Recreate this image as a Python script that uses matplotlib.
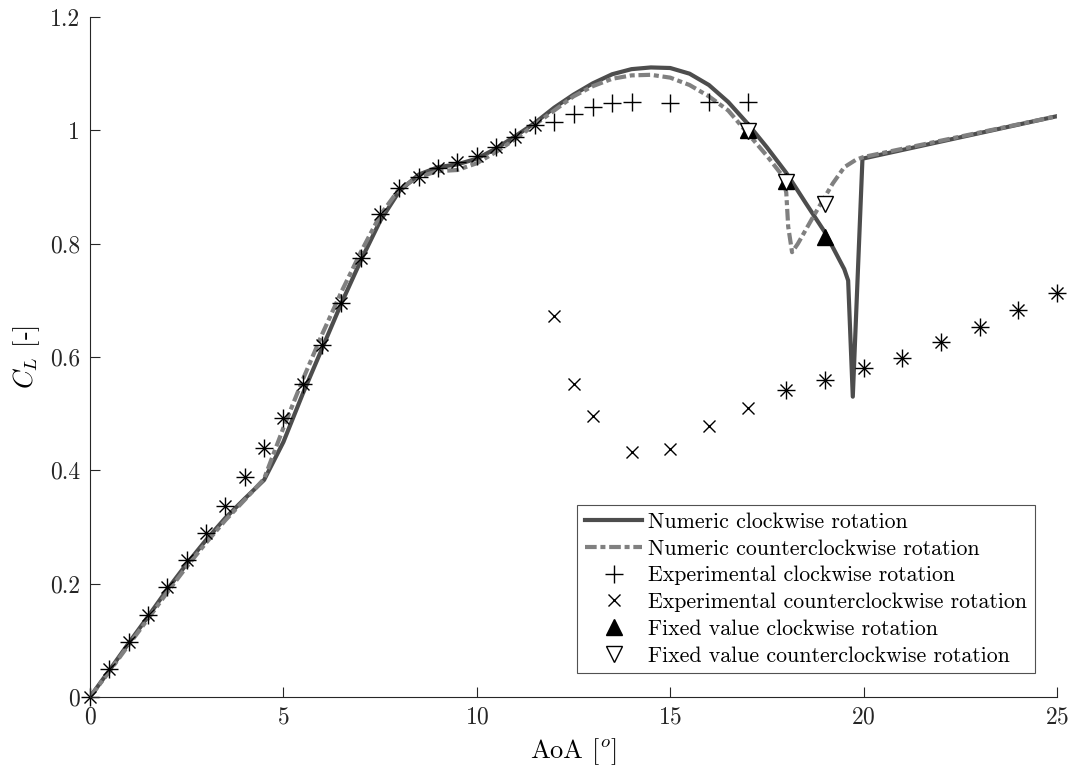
import matplotlib
matplotlib.use('Agg')
import matplotlib.pyplot as plt

# --- data ---
aoa_num_cw = [0, 0.5, 1, 1.5, 2, 2.5, 3, 3.5, 4, 4.5, 5, 5.5, 6, 6.5, 7, 7.5, 8, 8.5,
              9, 9.5, 10, 10.5, 11, 11.5, 12, 12.5, 13, 13.5, 14, 14.5, 15, 15.5, 16,
              16.5, 17, 17.5, 18, 18.5, 19, 19.5, 19.6, 19.72, 19.97, 25]
cl_num_cw = [0, 0.047, 0.095, 0.142, 0.19, 0.235, 0.277, 0.316, 0.35, 0.383, 0.45,
             0.535, 0.615, 0.695, 0.77, 0.84, 0.893, 0.922, 0.935, 0.94, 0.95, 0.968,
             0.99, 1.013, 1.04, 1.063, 1.083, 1.099, 1.108, 1.111, 1.11, 1.1, 1.08,
             1.05, 1.012, 0.97, 0.925, 0.872, 0.82, 0.755, 0.735, 0.53, 0.95, 1.025]

aoa_num_ccw = [0, 0.5, 1, 1.5, 2, 2.5, 3, 3.5, 4, 4.5, 5, 5.5, 6, 6.5, 7, 7.5, 8, 8.5,
               9, 9.5, 10, 10.5, 11, 11.5, 12, 12.5, 13, 13.5, 14, 14.5, 15, 15.5, 16,
               16.5, 17, 17.5, 17.9, 18.0, 18.05, 18.15, 18.3, 18.7, 19.2, 19.5, 19.8,
               20, 25]
cl_num_ccw = [0, 0.045, 0.092, 0.138, 0.185, 0.23, 0.272, 0.312, 0.348, 0.385, 0.475,
              0.56, 0.64, 0.715, 0.785, 0.85, 0.897, 0.918, 0.928, 0.93, 0.942, 0.962,
              0.985, 1.01, 1.035, 1.06, 1.078, 1.091, 1.097, 1.098, 1.093, 1.08, 1.06,
              1.035, 0.995, 0.955, 0.92, 0.89, 0.83, 0.785, 0.8, 0.848, 0.906, 0.935,
              0.948, 0.953, 1.025]

aoa_exp_cw = [0, 0.5, 1, 1.5, 2, 2.5, 3, 3.5, 4, 4.5, 5, 5.5, 6, 6.5, 7, 7.5, 8, 8.5,
              9, 9.5, 10, 10.5, 11, 11.5, 12, 12.5, 13, 13.5, 14, 15, 16, 17,
              18, 19, 20, 21, 22, 23, 24, 25]
cl_exp_cw = [0, 0.049, 0.0976, 0.144, 0.1935, 0.2417, 0.290, 0.337, 0.3876, 0.4394,
             0.4917, 0.552, 0.621, 0.695, 0.774, 0.852, 0.8977, 0.918, 0.933, 0.9435,
             0.9547, 0.970, 0.989, 1.009, 1.0141, 1.028, 1.0417, 1.0476, 1.0505, 1.049,
             1.0505, 1.0505, 0.5417, 0.5594, 0.58, 0.5976, 0.627, 0.6523, 0.683, 0.713]

aoa_exp_ccw = [0, 0.5, 1, 1.5, 2, 2.5, 3, 3.5, 4, 4.5, 5, 5.5, 6, 6.5, 7, 7.5, 8, 8.5,
               9, 9.5, 10, 10.5, 11, 11.5, 12, 12.5, 13, 14, 15, 16, 17,
               18, 19, 20, 21, 22, 23, 24, 25]
cl_exp_ccw = [0, 0.049, 0.0976, 0.144, 0.1935, 0.2417, 0.290, 0.337, 0.3876, 0.4394,
              0.4917, 0.552, 0.621, 0.695, 0.774, 0.852, 0.8977, 0.918, 0.933, 0.9435,
              0.9547, 0.970, 0.989, 1.009, 0.672, 0.552, 0.4965, 0.432, 0.4376, 0.478,
              0.5105, 0.5417, 0.5594, 0.58, 0.5976, 0.627, 0.6523, 0.683, 0.713]

aoa_fix_cw = [17, 18, 19]
cl_fix_cw = [1.0, 0.91, 0.812]
aoa_fix_ccw = [17, 18, 19]
cl_fix_ccw = [0.999, 0.909, 0.870]

plt.rcParams['font.family'] = 'cmr10'
plt.rcParams['mathtext.fontset'] = 'cm'
plt.rcParams['axes.formatter.use_mathtext'] = True

fig = plt.figure(figsize=(10.74, 7.73), dpi=100)
ax = fig.add_axes([0.0838, 0.0983, 0.9004, 0.8797])

ax.plot(aoa_num_cw, cl_num_cw, '-', color='#4d4d4d', lw=3,
        label='Numeric clockwise rotation')
ax.plot(aoa_num_ccw, cl_num_ccw, color='#808080', lw=3, dashes=(2.8, 0.9, 1.2, 0.9),
        label='Numeric counterclockwise rotation')
ax.plot(aoa_exp_cw, cl_exp_cw, '+', color='k', ms=13, mew=1.0, clip_on=False,
        label='Experimental clockwise rotation')
ax.plot(aoa_exp_ccw, cl_exp_ccw, 'x', color='k', ms=9, mew=1.0, clip_on=False,
        label='Experimental counterclockwise rotation')
ax.plot(aoa_fix_cw, cl_fix_cw, '^', color='k', ms=12, mec='k',
        label='Fixed value clockwise rotation')
ax.plot(aoa_fix_ccw, cl_fix_ccw, 'v', mfc='white', mec='k', ms=12, mew=1.0,
        label='Fixed value counterclockwise rotation')

ax.set_xlim(0, 25)
ax.set_ylim(0, 1.2)
ax.set_xticks([0, 5, 10, 15, 20, 25])
ax.set_yticks([0, 0.2, 0.4, 0.6, 0.8, 1.0, 1.2])
ax.set_yticklabels(['0', '0.2', '0.4', '0.6', '0.8', '1', '1.2'])
ax.tick_params(direction='in', length=7, width=0.8, labelsize=17, pad=7,
               colors='#262626')
for s in ['top', 'right']:
    ax.spines[s].set_visible(False)
for s in ['left', 'bottom']:
    ax.spines[s].set_color('#262626')
    ax.spines[s].set_linewidth(0.8)

ax.set_xlabel('AoA [$^o$]', fontsize=19, labelpad=5)
ax.set_ylabel('$C_L$ [-]', fontsize=19, labelpad=6)

leg = ax.legend(loc='lower right', bbox_to_anchor=(0.977, 0.035), fontsize=15.75,
                frameon=True, fancybox=False, edgecolor='#262626', handlelength=2.6,
                handletextpad=0.28, borderpad=0.35, labelspacing=0.33, borderaxespad=0)
leg.get_frame().set_linewidth(0.8)

fig.savefig('out.png', dpi=100)
